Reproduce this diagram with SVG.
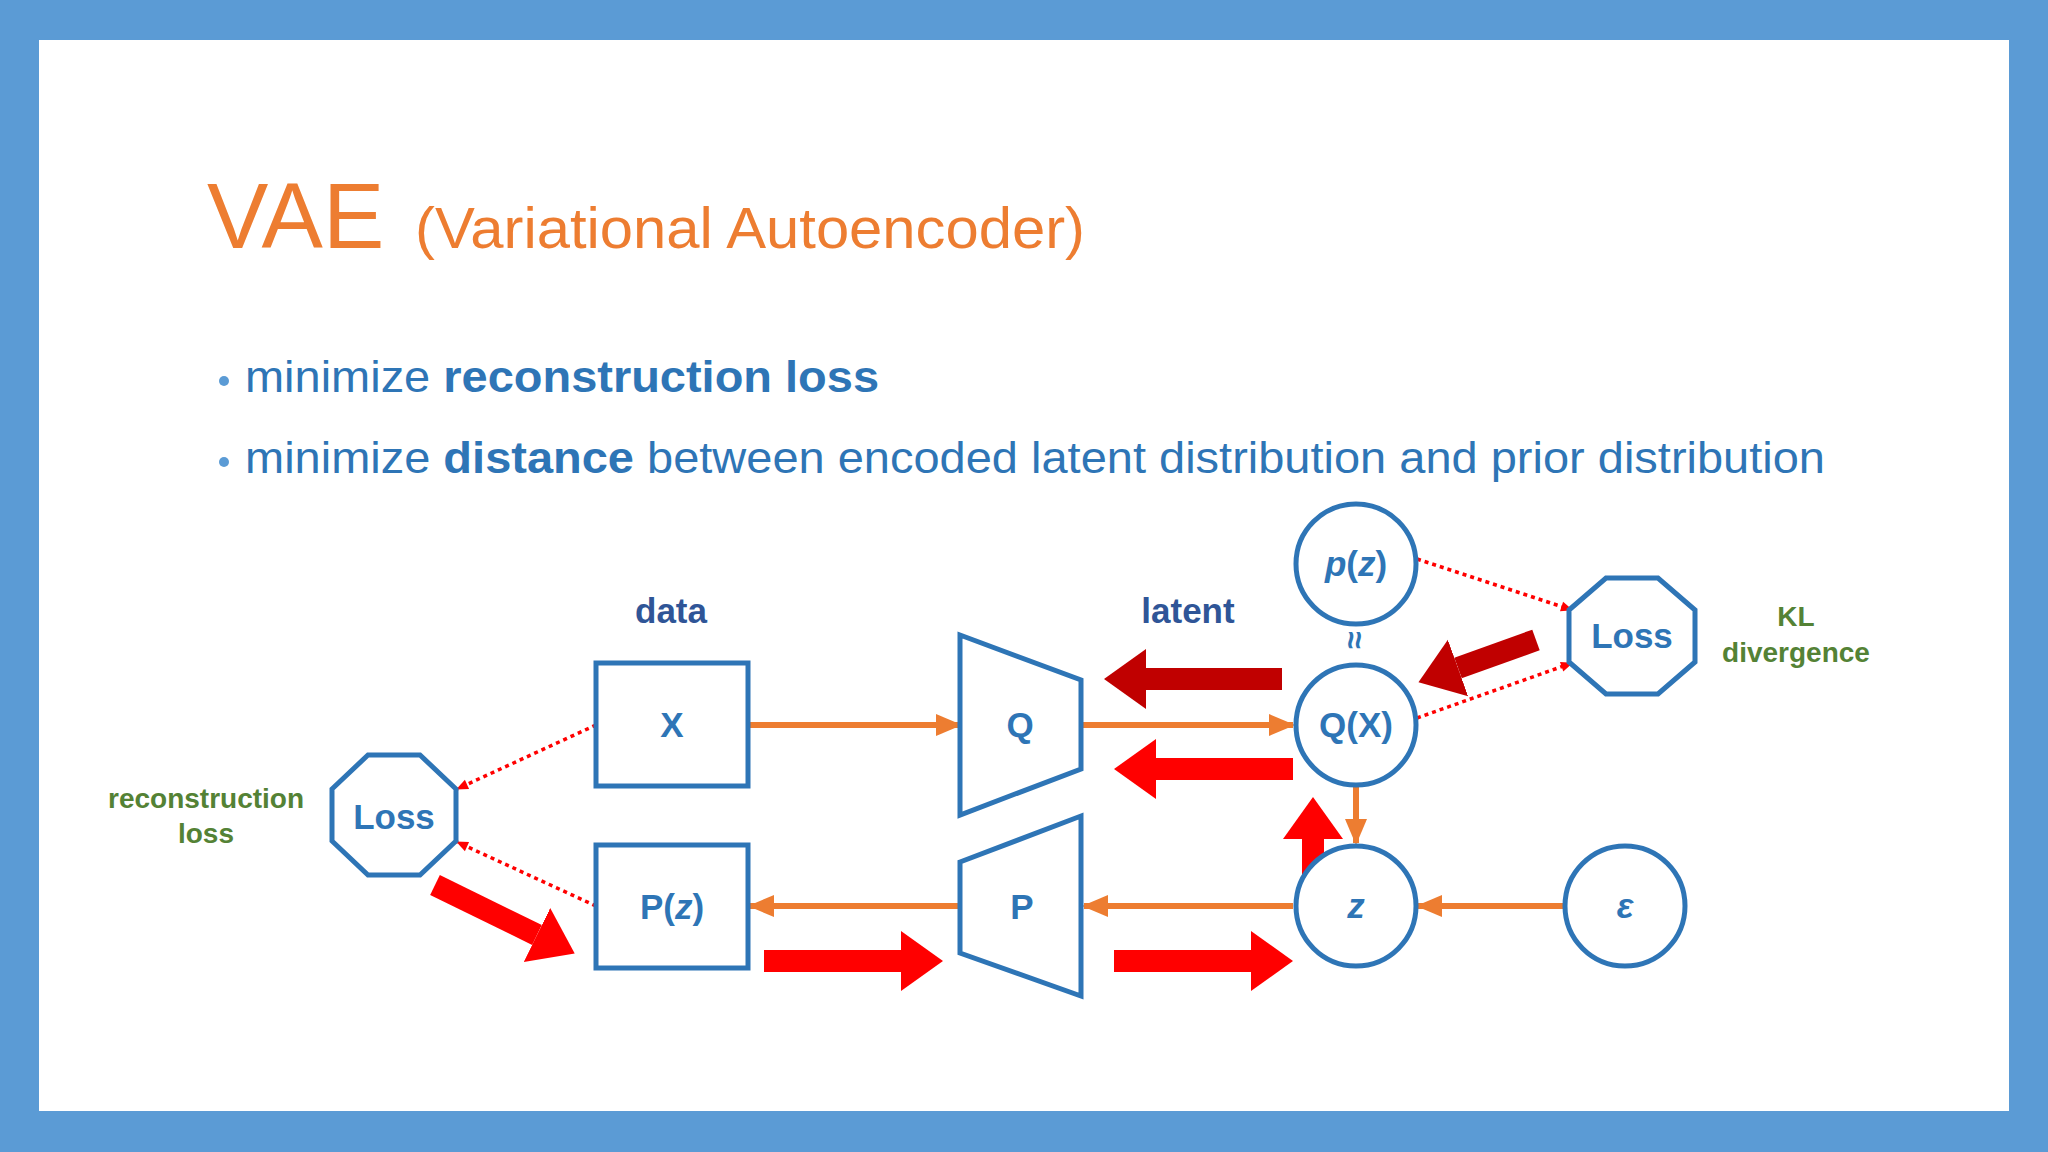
<svg xmlns="http://www.w3.org/2000/svg" width="2048" height="1152" viewBox="0 0 2048 1152">
<defs>
<style>
.n{fill:#fff;stroke:#2E75B6;stroke-width:5}
.lb{font-family:"Liberation Sans",Arial,sans-serif;font-weight:bold;font-size:35px;fill:#2E75B6;text-anchor:middle}
.or{stroke:#ED7D31;stroke-width:6;fill:none;marker-end:url(#ao)}
.dt{stroke:#FF0000;stroke-width:3.5;stroke-dasharray:4 4;fill:none;marker-end:url(#ad)}
.bd{stroke:#C00000;stroke-width:22;marker-end:url(#ab1)}
.br{stroke:#FF0000;stroke-width:22;marker-end:url(#ab2)}
.gr{font-family:"Liberation Sans",Arial,sans-serif;font-weight:bold;font-size:28px;fill:#548235;text-anchor:middle}
</style>
<marker id="ao" markerUnits="userSpaceOnUse" markerWidth="30" markerHeight="30" viewBox="0 0 30 30" refX="26" refY="15" orient="auto"><path d="M2,4 L28,15 L2,26 Z" fill="#ED7D31"/></marker>
<marker id="ad" markerUnits="userSpaceOnUse" markerWidth="14" markerHeight="14" viewBox="0 0 14 14" refX="12" refY="7" orient="auto"><path d="M1,2 L13,7 L1,12 Z" fill="#FF0000"/></marker>
<marker id="ab1" markerUnits="userSpaceOnUse" markerWidth="44" markerHeight="64" viewBox="0 0 44 64" refX="0" refY="32" orient="auto"><path d="M0,2 L42,32 L0,62 Z" fill="#C00000"/></marker>
<marker id="ab2" markerUnits="userSpaceOnUse" markerWidth="44" markerHeight="64" viewBox="0 0 44 64" refX="0" refY="32" orient="auto"><path d="M0,2 L42,32 L0,62 Z" fill="#FF0000"/></marker>
</defs>
<rect width="2048" height="1152" fill="#5B9BD5"/>
<rect x="39" y="40" width="1970" height="1071" fill="#fff"/>
<text x="207" y="248" font-family="Liberation Sans,Arial,sans-serif" font-size="92" fill="#ED7D31">VAE</text>
<text x="415" y="248" font-family="Liberation Sans,Arial,sans-serif" font-size="57" fill="#ED7D31" textLength="670" lengthAdjust="spacingAndGlyphs">(Variational Autoencoder)</text>
<g font-family="Liberation Sans,Arial,sans-serif" font-size="44" fill="#2E75B6">
<circle cx="224" cy="381" r="5" fill="#5B9BD5"/>
<text x="245" y="392" textLength="634" lengthAdjust="spacingAndGlyphs">minimize <tspan font-weight="bold">reconstruction loss</tspan></text>
<circle cx="224" cy="462" r="5" fill="#5B9BD5"/>
<text x="245" y="473" textLength="1580" lengthAdjust="spacingAndGlyphs">minimize <tspan font-weight="bold">distance</tspan> between encoded latent distribution and prior distribution</text>
</g>
<text class="lb" x="671" y="623" style="fill:#2F5597">data</text>
<text class="lb" x="1188" y="623" style="fill:#2F5597">latent</text>
<text class="gr" x="1796" y="626">KL</text>
<text class="gr" x="1796" y="662">divergence</text>
<text class="gr" x="206" y="808">reconstruction</text>
<text class="gr" x="206" y="843">loss</text>
<g id="connectors">
<line class="or" x1="748" y1="725" x2="960" y2="725"/>
<line class="or" x1="1081" y1="725" x2="1293" y2="725"/>
<line class="or" x1="1356" y1="786" x2="1356" y2="843"/>
<line class="or" x1="1565" y1="906" x2="1418" y2="906"/>
<line class="or" x1="1293" y1="906" x2="1084" y2="906"/>
<line class="or" x1="960" y1="906" x2="750" y2="906"/>
<line class="dt" x1="596" y1="725" x2="457" y2="789"/>
<line class="dt" x1="596" y1="906" x2="457" y2="842"/>
<line class="dt" x1="1417" y1="559" x2="1572" y2="610"/>
<line class="dt" x1="1417" y1="718" x2="1572" y2="663"/>
<line class="bd" x1="1282" y1="679" x2="1146" y2="679"/>
<line class="bd" x1="1536" y1="640" x2="1458" y2="668"/>
<line class="br" x1="1293" y1="769" x2="1156" y2="769"/>
<line class="br" x1="1313" y1="885" x2="1313" y2="839"/>
<line class="br" x1="435" y1="885" x2="537" y2="935"/>
<line class="br" x1="764" y1="961" x2="901" y2="961"/>
<line class="br" x1="1114" y1="961" x2="1251" y2="961"/>
</g>
<g id="X"><rect class="n" x="596" y="663" width="152" height="123"/><text class="lb" x="672" y="737">X</text></g>
<g id="Pz"><rect class="n" x="596" y="845" width="152" height="123"/><text class="lb" x="672" y="919">P(<tspan font-style="italic">z</tspan>)</text></g>
<g id="Q"><path class="n" d="M960,635 L1081,680 L1081,769 L960,815 Z"/><text class="lb" x="1020" y="737">Q</text></g>
<g id="P"><path class="n" d="M960,862 L1081,816 L1081,996 L960,953 Z"/><text class="lb" x="1022" y="919">P</text></g>
<g id="QX"><circle class="n" cx="1356" cy="725" r="60"/><text class="lb" x="1356" y="737">Q(X)</text></g>
<g id="pz"><circle class="n" cx="1356" cy="564" r="60"/><text class="lb" x="1356" y="576"><tspan font-style="italic">p</tspan>(<tspan font-style="italic">z</tspan>)</text></g>
<text class="lb" x="1356" y="652" transform="rotate(90 1356 640)" style="font-size:32px">≈</text>
<g id="z"><circle class="n" cx="1356" cy="906" r="60"/><text class="lb" x="1356" y="918" font-style="italic">z</text></g>
<g id="eps"><circle class="n" cx="1625" cy="906" r="60"/><text class="lb" x="1625" y="918" font-style="italic">ε</text></g>
<g id="LossKL"><path class="n" d="M1606,578 L1658,578 L1695,610 L1695,662 L1658,694 L1606,694 L1569,662 L1569,610 Z"/><text class="lb" x="1632" y="648">Loss</text></g>
<g id="LossRec"><path class="n" d="M368,755 L420,755 L456,789 L456,841 L420,875 L368,875 L332,841 L332,789 Z"/><text class="lb" x="394" y="829">Loss</text></g>
</svg>
